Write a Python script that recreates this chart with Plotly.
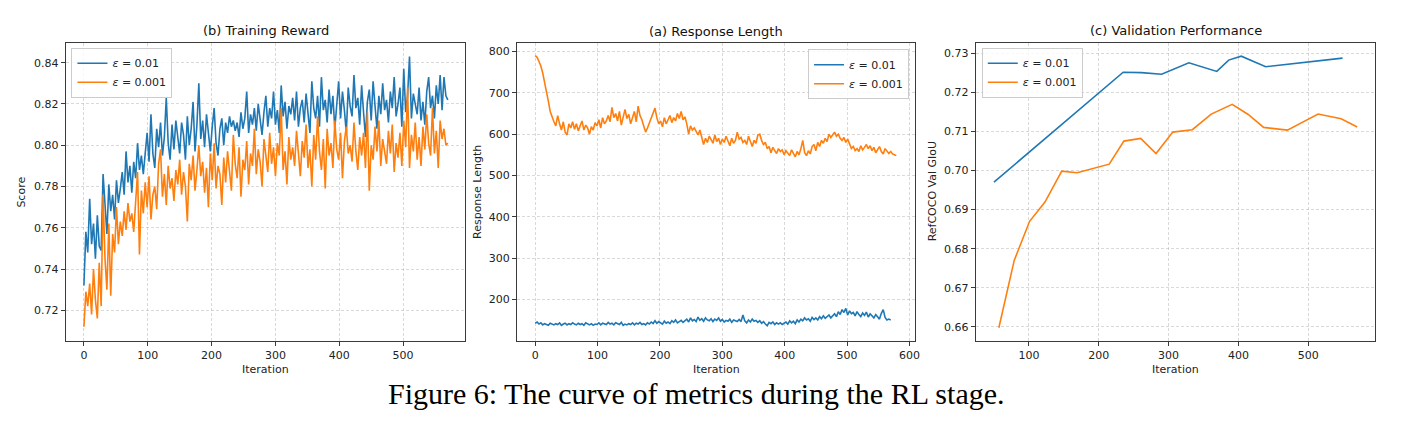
import plotly.graph_objects as go

# ---------------- data ----------------
# (b) Training Reward, sampled every 3 iterations (0..570)
reward_iter = list(range(0, 571, 3))
reward_eps_01 = [
    0.732, 0.758, 0.748, 0.774, 0.752, 0.762, 0.745, 0.766, 0.751, 0.749,
    0.786, 0.770, 0.757, 0.781, 0.768, 0.776, 0.764, 0.783, 0.772, 0.779,
    0.787, 0.776, 0.797, 0.782, 0.790, 0.777, 0.792, 0.784, 0.801, 0.788,
    0.795, 0.786, 0.798, 0.806, 0.792, 0.815, 0.796, 0.789, 0.808, 0.799,
    0.811, 0.795, 0.804, 0.823, 0.801, 0.793, 0.810, 0.798, 0.812, 0.803,
    0.796, 0.811, 0.805, 0.793, 0.814, 0.800, 0.808, 0.821, 0.797, 0.810,
    0.830, 0.803, 0.812, 0.799, 0.815, 0.806, 0.797, 0.809, 0.818, 0.801,
    0.795, 0.808, 0.813, 0.800, 0.811, 0.806, 0.814, 0.809, 0.812, 0.807,
    0.811, 0.804, 0.816, 0.808, 0.813, 0.826, 0.806, 0.815, 0.810, 0.818,
    0.807, 0.820, 0.812, 0.805, 0.816, 0.824, 0.809, 0.818, 0.813, 0.826,
    0.810, 0.817, 0.806, 0.829, 0.814, 0.821, 0.808, 0.819, 0.815, 0.823,
    0.812, 0.826, 0.809, 0.818, 0.822, 0.811, 0.825, 0.816, 0.806, 0.831,
    0.818, 0.813, 0.824, 0.809, 0.833, 0.817, 0.822, 0.811, 0.827, 0.815,
    0.824, 0.808, 0.820, 0.831, 0.813, 0.826, 0.817, 0.806, 0.828, 0.819,
    0.814, 0.834, 0.818, 0.823, 0.810, 0.829, 0.816, 0.804, 0.821, 0.827,
    0.812, 0.831, 0.819, 0.808, 0.824, 0.815, 0.830, 0.817, 0.822, 0.811,
    0.826, 0.818, 0.833, 0.814, 0.820, 0.828, 0.809, 0.837, 0.816, 0.824,
    0.843, 0.813, 0.825, 0.819, 0.815, 0.828, 0.812, 0.821, 0.810, 0.826,
    0.833, 0.818, 0.824, 0.813, 0.829, 0.820, 0.834, 0.817, 0.833, 0.824,
    0.822,
]
reward_eps_001 = [
    0.712, 0.729, 0.722, 0.733, 0.718, 0.740, 0.725, 0.716, 0.743, 0.722,
    0.776, 0.745, 0.730, 0.762, 0.727, 0.757, 0.748, 0.770, 0.752, 0.763,
    0.756, 0.768, 0.759, 0.772, 0.763, 0.767, 0.758, 0.773, 0.787, 0.747,
    0.778, 0.767, 0.782, 0.770, 0.785, 0.764, 0.776, 0.780, 0.769, 0.791,
    0.798, 0.775, 0.786, 0.771, 0.790, 0.779, 0.784, 0.773, 0.788, 0.781,
    0.793, 0.776, 0.787, 0.780, 0.763, 0.791, 0.783, 0.795, 0.778, 0.788,
    0.800, 0.785, 0.792, 0.777, 0.789, 0.770, 0.796, 0.783, 0.801, 0.779,
    0.790, 0.786, 0.771, 0.794, 0.782, 0.797, 0.788, 0.778, 0.805, 0.791,
    0.784, 0.799, 0.775, 0.793, 0.788, 0.802, 0.781, 0.796, 0.790, 0.808,
    0.786, 0.798, 0.792, 0.780, 0.803, 0.794, 0.787, 0.806, 0.791, 0.799,
    0.785, 0.801, 0.795, 0.818, 0.788, 0.797, 0.781, 0.804, 0.793, 0.799,
    0.790, 0.807, 0.796, 0.785, 0.802, 0.794, 0.810, 0.789, 0.798, 0.780,
    0.805, 0.793, 0.814, 0.797, 0.788, 0.803, 0.779, 0.808, 0.795, 0.801,
    0.789, 0.812, 0.798, 0.793, 0.806, 0.784, 0.802, 0.809, 0.796, 0.800,
    0.792, 0.811, 0.797, 0.788, 0.804, 0.795, 0.806, 0.789, 0.816, 0.778,
    0.800, 0.793, 0.809, 0.797, 0.812, 0.790, 0.803, 0.798, 0.791, 0.807,
    0.796, 0.810, 0.787, 0.801, 0.794, 0.806, 0.790, 0.812, 0.799, 0.828,
    0.789, 0.805, 0.797, 0.811, 0.793, 0.804, 0.790, 0.809, 0.798, 0.815,
    0.801, 0.795, 0.818, 0.796, 0.807, 0.789, 0.812, 0.803, 0.808, 0.800,
    0.801,
]

# (a) Response Length, sampled every 3 iterations
length_iter_01 = list(range(0, 571, 3))
length_eps_01 = [
    142, 145, 140, 143, 138, 141, 139, 137, 142, 140,
    138, 141, 139, 143, 137, 140, 142, 138, 141, 139,
    143, 140, 138, 142, 139, 141, 137, 143, 140, 138,
    141, 137, 140, 139, 143, 138, 142, 141, 139, 144,
    140, 142, 138, 143, 141, 139, 144, 137, 140, 138,
    141, 139, 143, 138, 142, 140, 144, 139, 141, 138,
    143, 140, 145, 141, 148, 142, 146, 143, 140, 147,
    142, 145, 141, 148, 144, 150, 143, 146, 149, 144,
    147, 152, 145, 155, 148, 151, 146, 157, 149, 153,
    147, 155, 150, 148, 153, 146, 152, 149, 155, 147,
    151, 145, 149, 147, 152, 144, 150, 148, 146, 151,
    146, 162, 148, 143, 150, 145, 152, 147, 149, 144,
    148, 142, 146, 140, 136, 144, 141, 145, 139, 143,
    140, 143, 139, 142, 145, 140, 148, 143, 147, 141,
    150, 145, 152, 148, 155, 150, 153, 147, 156, 151,
    155, 150, 158, 153, 160, 154, 157, 162, 155, 159,
    165, 158, 170, 163, 175, 168, 178, 162, 172, 165,
    168, 160, 170, 163, 158, 167, 161, 169, 157, 165,
    160, 155, 163, 158, 152, 166, 175, 156, 150, 152,
    150,
]
length_iter_001 = list(range(0, 580, 3))
length_eps_001 = [
    790, 786, 776, 765, 748, 728, 700, 680, 655, 640,
    630, 620, 645, 625, 610, 630, 605, 598, 625, 615,
    630, 612, 625, 608, 620, 632, 610, 622, 615, 600,
    618, 610, 628, 620, 635, 615, 640, 625, 632, 645,
    630, 665, 640, 650, 632, 655, 622, 645, 660, 638,
    648, 625, 642, 655, 630, 668, 645, 635, 620, 605,
    615, 628, 640, 655, 663, 640, 625, 632, 618, 640,
    625, 635, 645, 628, 640, 632, 650, 638, 655, 635,
    642, 625, 600, 620, 610, 615, 605, 598, 610, 590,
    575, 590, 580, 595, 585, 578, 598, 582, 590, 575,
    588, 580, 595, 585, 572, 590, 578, 585, 605, 588,
    592, 580, 585, 575, 595, 582, 570, 585, 578, 598,
    600, 585, 575, 580, 565, 570, 555, 568, 560, 553,
    565, 558, 562, 550, 560, 555, 548, 562, 552, 545,
    558, 550, 565, 585, 555, 548, 560, 552, 570, 575,
    560, 580, 570, 585, 578, 590, 582, 600, 592, 598,
    605, 595, 600, 590, 585, 592, 580, 588, 575, 565,
    570, 560, 565, 558, 572, 562, 568, 575, 565, 572,
    560, 568, 555, 562, 570, 558, 552, 565, 560, 553,
    558, 552, 550, 548,
]

# (c) Validation Performance
val_iter_01 = [50, 235, 261, 290, 329, 369, 386, 404, 439, 549]
val_eps_01 = [0.6970, 0.7251, 0.7250, 0.7246, 0.7275, 0.7253, 0.7282, 0.7292, 0.7265, 0.7287]
val_iter_001 = [57, 79, 101, 123, 147, 169, 215, 236, 260, 282,
                306, 334, 361, 391, 414, 436, 470, 514, 547, 570]
val_eps_001 = [0.6598, 0.6770, 0.6870, 0.6919, 0.6998, 0.6994, 0.7016, 0.7075, 0.7082, 0.7043,
               0.7098, 0.7104, 0.7144, 0.7169, 0.7143, 0.7110, 0.7103, 0.7144, 0.7132, 0.7111]

series_names = ["<i>ε</i> = 0.01", "<i>ε</i> = 0.001"]
panel_titles = ["(b) Training Reward", "(a) Response Length", "(c) Validation Performance"]
y_titles = ["Score", "Response Length", "RefCOCO Val GIoU"]
x_title = "Iteration"
caption = "Figure 6: The curve of metrics during the RL stage."

reward_yticks = [0.72, 0.74, 0.76, 0.78, 0.80, 0.82, 0.84]
length_yticks = [200, 300, 400, 500, 600, 700, 800]
val_yticks = [0.66, 0.67, 0.68, 0.69, 0.70, 0.71, 0.72, 0.73]

# ---------------- figure ----------------
W, H = 1401, 424
BLUE, ORANGE = "#1f77b4", "#ff7f0e"
FONT = "DejaVu Sans"

def px(x):
    return x / W

def py(y):
    return 1 - y / H

top, bottom = 42.5, 341
doms = [(66, 467), (519, 918.3), (979.3, 1380.3)]

fig = go.Figure()

traces = [
    (1, reward_iter, reward_eps_01, BLUE, 0, "legend"),
    (1, reward_iter, reward_eps_001, ORANGE, 1, "legend"),
    (2, length_iter_01, length_eps_01, BLUE, 0, "legend2"),
    (2, length_iter_001, length_eps_001, ORANGE, 1, "legend2"),
    (3, val_iter_01, val_eps_01, BLUE, 0, "legend3"),
    (3, val_iter_001, val_eps_001, ORANGE, 1, "legend3"),
]
for k, xs, ys, col, si, lg in traces:
    fig.add_trace(go.Scatter(
        x=xs, y=ys, mode="lines", name=series_names[si],
        line=dict(color=col, width=1.6),
        xaxis="x" if k == 1 else f"x{k}",
        yaxis="y" if k == 1 else f"y{k}",
        legend=lg,
    ))

axis_common = dict(
    showline=True, mirror=True, linecolor="#3a3a3a", linewidth=1.2,
    ticks="outside", ticklen=4, tickwidth=1, tickcolor="#3a3a3a",
    tickfont=dict(family=FONT, size=11, color="#222"),
    showgrid=True, gridcolor="rgba(170,170,170,0.45)", griddash="3px,2px", gridwidth=0.8,
    zeroline=False,
)

xranges = [[-28.45, 597.45], [-29, 609], [24, 596]]
xticks = [[0, 100, 200, 300, 400, 500], [0, 100, 200, 300, 400, 500, 600], [100, 200, 300, 400, 500]]
yranges = [[0.7051, 0.8498], [99, 822], [0.6564, 0.7327]]
yticks = [reward_yticks, length_yticks, val_yticks]
yfmt = [".2f", "d", ".2f"]

layout = dict(
    width=W, height=H, autosize=False,
    margin=dict(l=0, r=0, t=0, b=0),
    paper_bgcolor="white", plot_bgcolor="white",
    font=dict(family=FONT, size=11, color="#222"),
)
for i in range(3):
    xn = "xaxis" if i == 0 else f"xaxis{i+1}"
    yn = "yaxis" if i == 0 else f"yaxis{i+1}"
    anchor_x = "y" if i == 0 else f"y{i+1}"
    anchor_y = "x" if i == 0 else f"x{i+1}"
    layout[xn] = dict(axis_common, domain=[px(doms[i][0]), px(doms[i][1])],
                      range=xranges[i], tickvals=xticks[i], anchor=anchor_x)
    layout[yn] = dict(axis_common, domain=[py(bottom), py(top)],
                      range=yranges[i], tickvals=yticks[i], tickformat=yfmt[i], anchor=anchor_y)

legend_common = dict(
    bgcolor="rgba(255,255,255,0.8)", bordercolor="#cccccc", borderwidth=1,
    font=dict(family=FONT, size=11, color="#222"),
    yanchor="top", tracegroupgap=0, itemwidth=30,
)
layout["legend"] = dict(legend_common, x=px(71.7), y=py(47.7), xanchor="left")
layout["legend2"] = dict(legend_common, x=px(912.3), y=py(49.3), xanchor="right")
layout["legend3"] = dict(legend_common, x=px(985.3), y=py(47.7), xanchor="left")

annotations = []
title_y = [30.5, 32, 30.5]
for i in range(3):
    cx = (doms[i][0] + doms[i][1]) / 2
    annotations.append(dict(text=panel_titles[i], x=px(cx), y=py(title_y[i]),
                            xref="paper", yref="paper", showarrow=False,
                            xanchor="center", yanchor="middle",
                            font=dict(family=FONT, size=13, color="#111")))
    annotations.append(dict(text=x_title, x=px(cx), y=py(369),
                            xref="paper", yref="paper", showarrow=False,
                            xanchor="center", yanchor="middle",
                            font=dict(family=FONT, size=11, color="#222")))
ylab_x = [22, 479, 936]
for i in range(3):
    annotations.append(dict(text=y_titles[i], x=px(ylab_x[i]), y=py(191.7),
                            xref="paper", yref="paper", showarrow=False, textangle=-90,
                            xanchor="center", yanchor="middle",
                            font=dict(family=FONT, size=11, color="#222")))
annotations.append(dict(text=caption, x=px(699), y=py(393),
                        xref="paper", yref="paper", showarrow=False,
                        xanchor="center", yanchor="middle",
                        font=dict(family="Liberation Serif", size=30, color="#000")))
layout["annotations"] = annotations

fig.update_layout(**layout)
fig.write_html("out.html")
